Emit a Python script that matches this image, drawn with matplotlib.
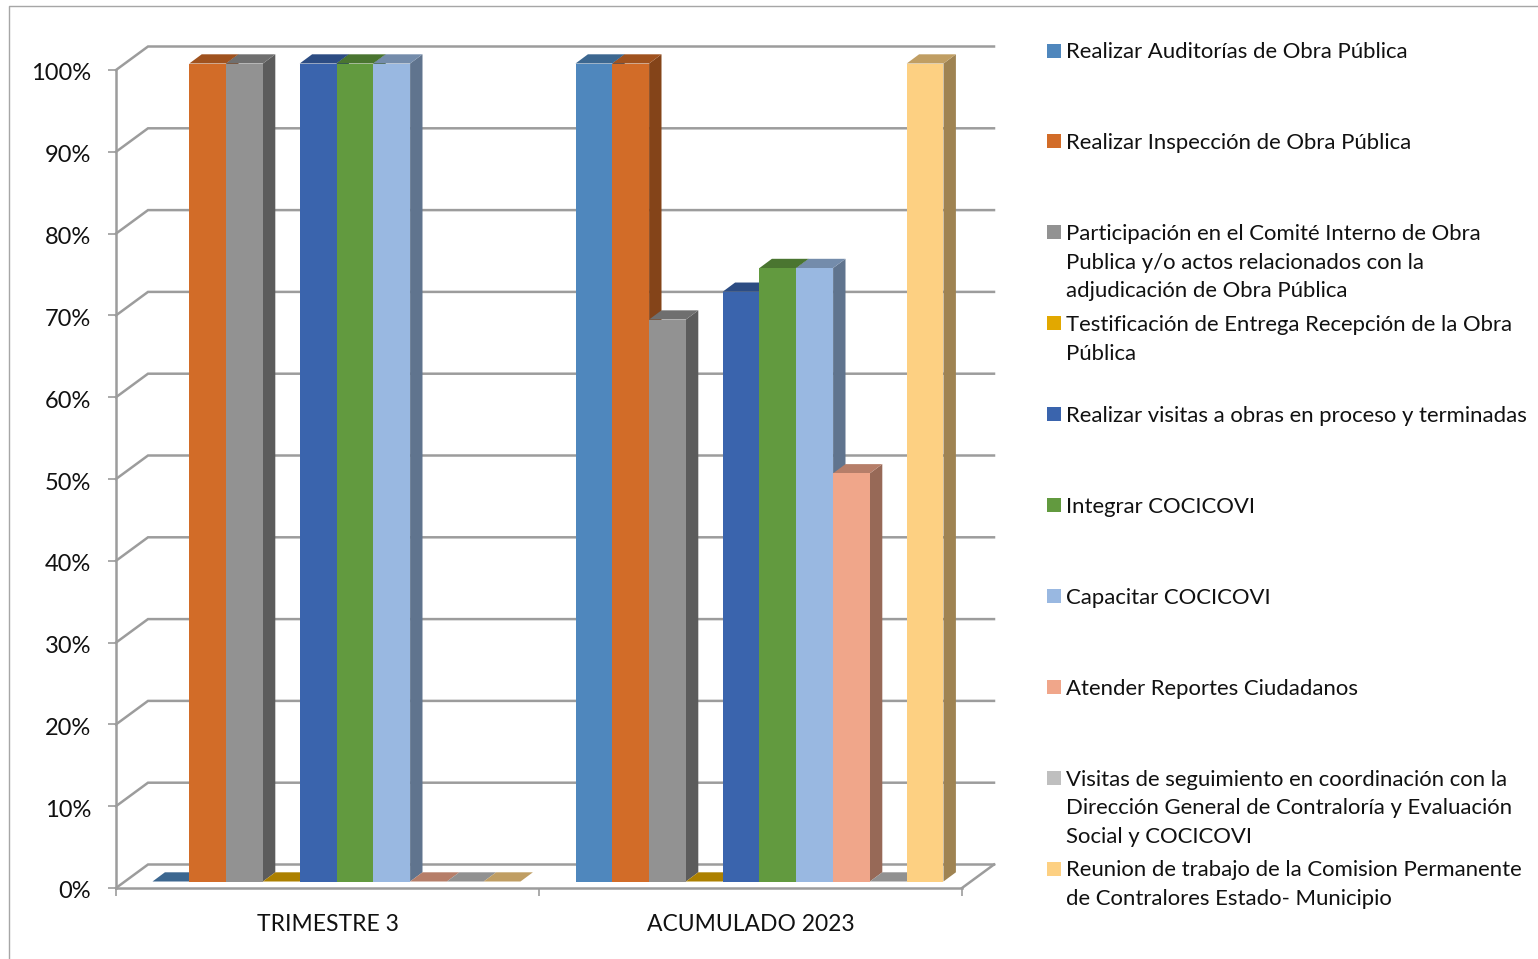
import matplotlib
matplotlib.use('Agg')
import matplotlib.pyplot as plt
from matplotlib.colors import to_rgb
from matplotlib.lines import Line2D
from matplotlib.patches import Rectangle
from matplotlib.transforms import Affine2D

W, H = 1538, 959

# Data
categories = ['TRIMESTRE 3', 'ACUMULADO 2023']
labels = [
    'Realizar Auditorías de Obra Pública',
    'Realizar Inspección de Obra Pública',
    'Participación en el Comité Interno de Obra\nPublica y/o actos relacionados con la\nadjudicación de Obra Pública',
    'Testificación de Entrega Recepción de la Obra\nPública',
    'Realizar visitas a obras en proceso y terminadas',
    'Integrar COCICOVI',
    'Capacitar COCICOVI',
    'Atender Reportes Ciudadanos',
    'Visitas de seguimiento en coordinación con la\nDirección General de Contraloría y Evaluación\nSocial y COCICOVI',
    'Reunion de trabajo de la Comision Permanente\nde Contralores Estado- Municipio',
]
trimestre = [0, 100, 100, 0, 100, 100, 100, 0, 0, 0]
acumulado = [100, 100, 68.7, 0, 72.1, 75, 75, 49.9, 0, 100]
colors = ['#4F87BD', '#D26C28', '#929292', '#E2A800', '#3A64AD',
          '#629A3F', '#99B8E1', '#F0A68A', '#BFBFBF', '#FDD082']

GRID = '#9C9C9C'
plt.rcParams['font.family'] = ['Lato', 'DejaVu Sans']
FS = 16.5
FS_TICK = 17
FS_LEG = 15.9


def shade(c, k):
    return tuple(v * k for v in to_rgb(c))


fig = plt.figure(figsize=(W / 100, H / 100), dpi=100)
# axes = front plane of the 3D box
ax = fig.add_axes([116 / W, 1 - 888 / H, (962 - 116) / W, (888 - 70) / H])
ax.patch.set_visible(False)
ax.set_xlim(0, 2)
ax.set_ylim(0, 100)

px_x = 423.0   # pixels per category
px_y = 8.18    # pixels per percent

# back wall and side wall lines
wall_dx = 32 / px_x
wall_dy = 23.5 / px_y
for t in range(0, 101, 10):
    ax.plot([0, wall_dx, 2 + wall_dx], [t, t + wall_dy, t + wall_dy],
            color=GRID, lw=1.8, clip_on=False, zorder=1, solid_joinstyle='miter')
ax.plot([2, 2 + wall_dx], [0, wall_dy], color=GRID, lw=1.8, clip_on=False, zorder=1)

# bars
width = 36.8 / px_x
depth_x = 12.4 / px_x
depth_y = 9.2 / px_y
shift = 9.0 / px_x
base = 6.5 / px_y

z = 3
for g, values in enumerate([trimestre, acumulado]):
    n = len(values)
    for i, v in enumerate(values):
        left = g + 0.5 + shift + (i - n / 2) * width
        right = left + width
        top = base + v
        # side
        ax.fill([right, right + depth_x, right + depth_x, right],
                [base, base + depth_y, top + depth_y, top],
                color=shade(colors[i], 0.63), lw=0, clip_on=False, zorder=z)
        # top
        ax.fill([left, right, right + depth_x, left + depth_x],
                [top, top, top + depth_y, top + depth_y],
                color=shade(colors[i], 0.76), lw=0, clip_on=False, zorder=z)
        # front
        ax.bar(left, v, width, bottom=base, align='edge', color=colors[i], lw=0,
               clip_on=False, zorder=z)
        z += 1

# axes
for s in ['top', 'right']:
    ax.spines[s].set_visible(False)
for s in ['left', 'bottom']:
    ax.spines[s].set_color(GRID)
    ax.spines[s].set_linewidth(1.8)
    ax.spines[s].set_zorder(2)

ax.set_yticks(range(0, 101, 10))
ax.set_yticklabels([f'{t}%' for t in range(0, 101, 10)], fontsize=FS_TICK, color='#111111')
ax.tick_params(axis='y', length=5.5, width=1.2, color=GRID, pad=13)
for lbl in ax.get_yticklabels():
    lbl.set_transform(lbl.get_transform() + Affine2D().translate(1, -2))
ax.set_xticks([0, 1, 2])
ax.set_xticklabels([])
ax.tick_params(axis='x', which='major', length=5.5, width=1.2, color=GRID)
ax.set_xticks([0.5, 1.5], minor=True)
ax.set_xticklabels(categories, minor=True, fontsize=FS, color='#111111')
ax.tick_params(axis='x', which='minor', length=0, pad=18.5)

# legend, one slot every 91 px
for i, lab in enumerate(labels):
    yc = 50.5 + 90.9 * i
    fig.add_artist(Rectangle((1047 / W, 1 - (yc + 7) / H), 14 / W, 14 / H,
                             transform=fig.transFigure, color=colors[i], lw=0))
    fig.text(1066 / W, 1 - (yc - 8.2) / H, lab, fontsize=FS_LEG, color='#111111',
             va='top', ha='left', linespacing=1.54)

# outer frame
fig.add_artist(Line2D([9 / W, 9 / W, 1], [0, 1 - 6 / H, 1 - 6 / H], color='#A6A6A6', lw=1))

fig.savefig('out.png', dpi=100)
